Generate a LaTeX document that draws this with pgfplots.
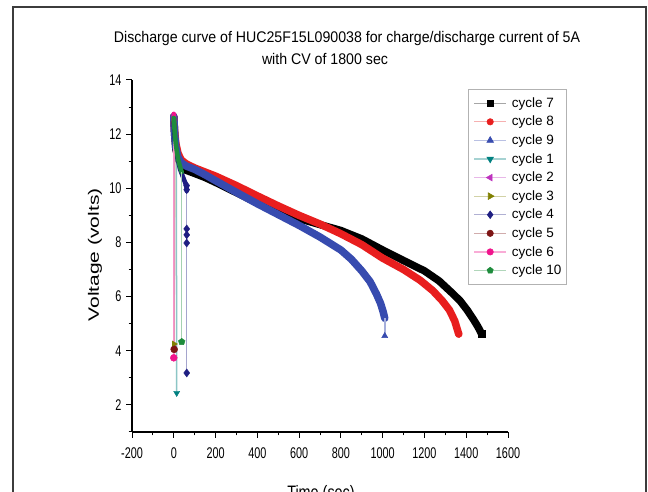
\documentclass[border=0pt]{standalone}
\usepackage{pgfplots}
\pgfplotsset{compat=1.18}
\usepackage{fontspec}
\setmainfont{Liberation Sans}
\newfontfamily\tickfont[FakeStretch=0.70]{Liberation Sans}
\newfontfamily\titlefont[FakeStretch=0.92]{Liberation Sans}
\newfontfamily\ylabfont[FakeStretch=1.40]{Liberation Sans}
\newfontfamily\xlabfont[FakeStretch=0.80]{Liberation Sans}
\definecolor{c8}{RGB}{232,30,30}
\definecolor{c9}{RGB}{55,75,175}
\definecolor{c1}{RGB}{0,128,128}
\definecolor{c2}{RGB}{190,50,190}
\definecolor{c3}{RGB}{128,128,0}
\definecolor{c4}{RGB}{30,30,130}
\definecolor{c5}{RGB}{125,20,20}
\definecolor{c6}{RGB}{240,20,140}
\definecolor{c10}{RGB}{30,140,60}
\definecolor{framec}{RGB}{60,60,60}
\begin{document}
\begin{tikzpicture}
\useasboundingbox (0pt,0pt) rectangle (648pt,492pt);
\clip (0pt,0pt) rectangle (648pt,492pt);
\fill[white] (0pt,0pt) rectangle (648pt,492pt);
\draw[framec, line width=2pt] (13pt,-20pt) -- (13pt,485pt) -- (646pt,485pt) -- (646pt,-20pt);
\node[anchor=base, inner sep=0pt, font=\titlefont\fontsize{15.4}{16}\selectfont] at (347pt,449pt) {Discharge curve of HUC25F15L090038 for charge/discharge current of 5A};
\node[anchor=base, inner sep=0pt, font=\titlefont\fontsize{15.4}{16}\selectfont] at (325pt,427pt) {with CV of 1800 sec};
\node[rotate=90, inner sep=0pt, font=\ylabfont\fontsize{15}{16}\selectfont] at (95pt,237pt) {Voltage (volts)};
\node[anchor=base, inner sep=0pt, font=\xlabfont\fontsize{18}{18}\selectfont] at (321pt,-7pt) {Time (sec)};
\begin{axis}[
  at={(132pt,60pt)}, anchor=south west,
  scale only axis, width=376pt, height=352pt,
  xmin=-200, xmax=1600, ymin=1, ymax=14,
  axis lines*=left, axis line style={line width=1.3pt, -},
  xtick={-200,0,...,1600}, minor xtick={-100,100,...,1500},
  ytick={2,4,...,14}, minor ytick={1,3,...,13},
  tick align=outside, major tick length=6pt, minor tick length=3.5pt,
  every tick/.style={black, line width=1pt},
  tick label style={font=\tickfont\fontsize{15.5}{15.5}\selectfont, /pgf/number format/assume math mode=true, /pgf/number format/1000 sep={}},
  xticklabel shift=6pt, yticklabel shift=1pt,
  legend cell align=left,
  legend style={at={(0.8936,0.9744)}, anchor=north west, draw=gray!60, line width=1.2pt, fill=white,
    inner xsep=5pt, inner ysep=8pt, row sep=7.3pt, column sep=5pt,
    font=\fontsize{13.5}{14}\selectfont, nodes={inner sep=0pt}},
  legend image code/.code={
    \draw[#1, mark=none, line width=1.2pt, draw opacity=0.35] (0pt,0pt) -- (32pt,0pt);
    \draw[#1, line width=0.6pt] plot coordinates {(16pt,0pt)};
  },
  band/.style={line width=7.5pt, line join=round, line cap=round, mark=none, forget plot},
  sband/.style={line width=4.5pt, line join=round, line cap=round, mark=none, forget plot},
  tail/.style={line width=1.5pt, mark=none, forget plot},
  endm/.style={only marks, mark size=3.5pt, forget plot},
]
% cycle 7 (black)
\addplot[band, black] coordinates {(0,12.65)(4,12.0)(10,11.45)(20,11.12)(35,10.85)(55,10.68)(100,10.55)(150,10.4)(200,10.22)(300,9.84)(400,9.46)(500,9.14)(600,8.88)(700,8.66)(800,8.44)(900,8.13)(1000,7.72)(1100,7.33)(1200,6.95)(1270,6.58)(1330,6.15)(1370,5.85)(1405,5.5)(1435,5.15)(1455,4.9)(1474,4.62)};
\addplot[endm, black, mark=square*] coordinates {(1474,4.62)};
% cycle 8 (red)
\addplot[band, c8] coordinates {(0,12.65)(4,12.1)(10,11.65)(20,11.3)(35,11.05)(60,10.9)(100,10.75)(150,10.6)(200,10.45)(300,10.1)(400,9.72)(500,9.35)(600,9.0)(700,8.68)(800,8.32)(900,7.92)(1000,7.42)(1100,7.0)(1180,6.6)(1240,6.22)(1285,5.85)(1320,5.5)(1345,5.1)(1364,4.62)};
\addplot[endm, c8, mark=*] coordinates {(1364,4.62)};
% cycle 9 (blue)
\addplot[band, c9] coordinates {(0,12.65)(4,12.0)(10,11.5)(20,11.15)(35,10.95)(60,10.82)(100,10.7)(150,10.5)(200,10.28)(300,9.85)(400,9.43)(500,9.03)(600,8.63)(700,8.2)(800,7.72)(850,7.38)(900,6.95)(940,6.55)(970,6.1)(990,5.75)(1002,5.45)(1010,5.2)};
\addplot[tail, c9!45] coordinates {(1010,5.2)(1010,4.55)};
\addplot[endm, c9, mark=triangle*] coordinates {(1010,4.55)};
% cycle 1 (teal)
\addplot[sband, c1] coordinates {(0,12.6)(4,12.0)(8,11.6)(12,11.3)};
\addplot[tail, c1!45] coordinates {(12,11.3)(14,2.44)};
\addplot[endm, c1, mark=triangle*, mark options={rotate=180}] coordinates {(14,2.44)};
% cycle 2 (magenta)
\addplot[sband, c2] coordinates {(0,12.7)(2,12.3)(3,12.0)};
\addplot[tail, c2!55] coordinates {(3,12.0)(2,4.1)};
\addplot[endm, c2, mark=triangle*, mark options={rotate=90}] coordinates {(2,4.1)};
% cycle 3 (olive)
\addplot[sband, c3] coordinates {(0,12.6)(3,12.2)(5,11.9)};
\addplot[tail, c3!45] coordinates {(5,11.9)(1,4.25)};
\addplot[endm, c3, mark=triangle*, mark options={rotate=-90}] coordinates {(1,4.25)};
% cycle 4 (navy)
\addplot[sband, c4] coordinates {(0,12.4)(5,11.8)(15,11.2)(30,10.7)(45,10.4)(55,10.2)(62,10.0)(62,9.9)};
\addplot[tail, c4!40] coordinates {(62,9.9)(62,3.18)};
\addplot[endm, c4, mark=diamond*, mark size=4pt] coordinates {(62,10.1)(62,9.95)(62,8.5)(62,8.28)(62,7.98)(62,3.18)};
% cycle 5 (dark red)
\addplot[sband, c5] coordinates {(0,12.6)(2,12.2)};
\addplot[tail, c5!45] coordinates {(2,12.2)(2,4.05)};
\addplot[endm, c5, mark=*] coordinates {(2,4.05)};
% cycle 6 (pink)
\addplot[sband, c6] coordinates {(0,12.75)(1,12.5)};
\addplot[tail, c6!45] coordinates {(1,12.5)(0,3.74)};
\addplot[endm, c6, mark=*] coordinates {(0,3.74)};
% cycle 10 (green)
\addplot[sband, c10] coordinates {(0,12.6)(5,12.0)(10,11.6)(20,11.1)(30,10.8)(38,10.6)};
\addplot[tail, c10!40] coordinates {(38,10.6)(38,4.33)};
\addplot[endm, c10, mark=pentagon*, mark size=3.5pt] coordinates {(38,4.33)};
% legend
\addlegendimage{black, mark=square*, mark size=3pt}\addlegendentry{cycle 7}
\addlegendimage{c8, mark=*, mark size=3.2pt}\addlegendentry{cycle 8}
\addlegendimage{c9, mark=triangle*, mark size=3.8pt}\addlegendentry{cycle 9}
\addlegendimage{c1, mark=triangle*, mark size=3.8pt, mark options={rotate=180}}\addlegendentry{cycle 1}
\addlegendimage{c2, mark=triangle*, mark size=3.8pt, mark options={rotate=90}}\addlegendentry{cycle 2}
\addlegendimage{c3, mark=triangle*, mark size=3.8pt, mark options={rotate=-90}}\addlegendentry{cycle 3}
\addlegendimage{c4, mark=diamond*, mark size=3.8pt}\addlegendentry{cycle 4}
\addlegendimage{c5, mark=*, mark size=3.2pt}\addlegendentry{cycle 5}
\addlegendimage{c6, mark=*, mark size=3.2pt}\addlegendentry{cycle 6}
\addlegendimage{c10, mark=pentagon*, mark size=3.2pt}\addlegendentry{cycle 10}
\end{axis}
\end{tikzpicture}
\end{document}
